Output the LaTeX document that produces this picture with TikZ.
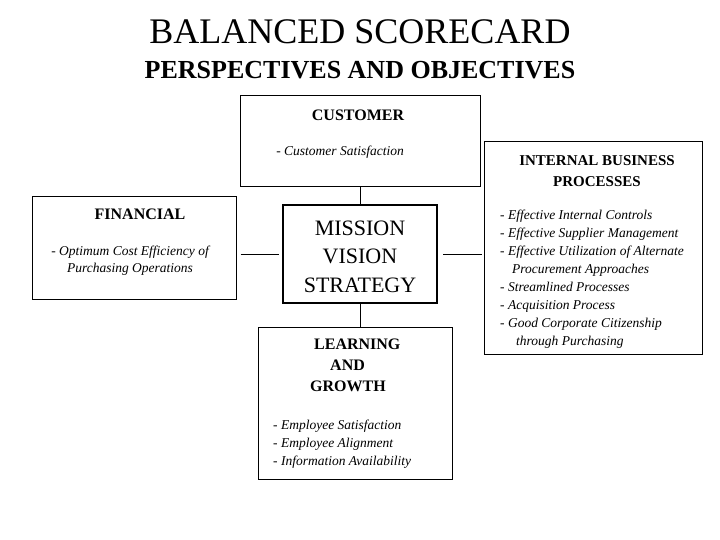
\documentclass[tikz,border=0pt]{standalone}
\usepackage{fontspec}
\setmainfont{Liberation Serif}
\begin{document}
\begin{tikzpicture}[x=1pt,y=-1pt,
  box/.style={draw,line width=1pt,inner sep=0pt},
  conn/.style={line width=1pt},
  head/.style={font=\fontsize{16}{18}\selectfont\bfseries,align=center},
  item/.style={font=\fontsize{13.5}{18}\selectfont\itshape,align=left,anchor=north west,inner sep=0pt}]
\useasboundingbox (0,0) rectangle (720,540);
\node (t1) at (360,32) {\fontsize{36}{40}\selectfont BALANCED SCORECARD};
\node (t2) at (360,70) {\fontsize{26}{30}\selectfont\bfseries PERSPECTIVES AND OBJECTIVES};
% boxes
\node[box,minimum width=240pt,minimum height=91pt] (cus) at (360,141.5) {};
\node[box,minimum width=204pt,minimum height=102pt] (fin) at (134,248) {};
\node[box,line width=2.5pt,minimum width=154pt,minimum height=98pt] (mis) at (360,254) {};
\node[box,minimum width=218pt,minimum height=212pt] (int) at (593,248) {};
\node[box,minimum width=194pt,minimum height=152pt] (lea) at (355,403) {};
% connectors
\draw[conn] (cus.south) -- (mis.north);
\draw[conn,shorten <=4pt,shorten >=3pt] (fin.east |- mis.west) -- (mis.west);
\draw[conn,shorten <=5pt,shorten >=2pt] (mis.east) -- (int.west |- mis.east);
\draw[conn] (mis.south) -- (lea.north -| mis.south);
% texts
\node[head] (cust) at (358,115) {CUSTOMER};
\node[font=\fontsize{13.5}{16}\selectfont\itshape] (cuss) at (340,152) {- Customer Satisfaction};
\node[head] (fint) at (140,214) {FINANCIAL};
\node[font=\fontsize{13.5}{17}\selectfont\itshape,align=center] (fins) at (130,260.5) {- Optimum Cost Efficiency of\\Purchasing Operations};
\node[font=\fontsize{22}{28.5}\selectfont,align=center] (mist) at (360,256.5) {MISSION\\VISION\\STRATEGY};
\node[head,font=\fontsize{15}{21}\selectfont\bfseries] (intt) at (597,171.5) {INTERNAL BUSINESS\\PROCESSES};
\node[item] (ints) at (500,210) {- Effective Internal Controls\\- Effective Supplier Management\\- Effective Utilization of Alternate\\\hspace*{12pt}Procurement Approaches\\- Streamlined Processes\\- Acquisition Process\\- Good Corporate Citizenship\\\hspace*{16pt}through Purchasing};
\node[head,font=\fontsize{16}{21}\selectfont\bfseries,align=left,anchor=north west,inner sep=0pt] (leat) at (310,339) {\hspace*{4pt}LEARNING\\\hspace*{20pt}AND\\GROWTH};
\node[item] (leas) at (273,420) {- Employee Satisfaction\\- Employee Alignment\\- Information Availability};
\end{tikzpicture}
\end{document}
